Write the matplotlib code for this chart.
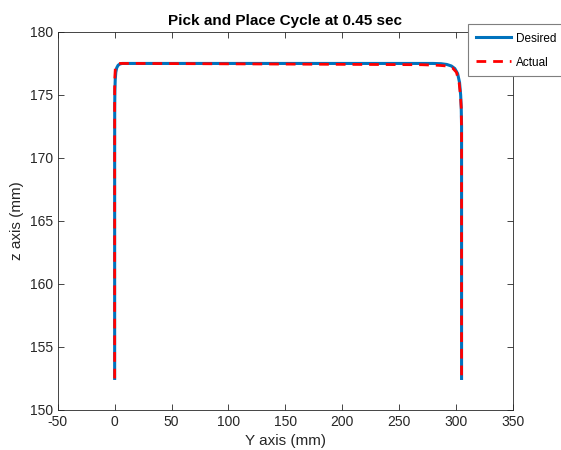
import numpy as np
import matplotlib.pyplot as plt

plt.rcParams['font.family'] = ['Liberation Sans', 'DejaVu Sans']
plt.rcParams['axes.unicode_minus'] = False

# desired path (Y, z) in mm
y_desired = [0, 0, 0.05, 0.2, 0.5, 1.0, 1.8, 3.0, 4.5, 6.5, 9.0, 12.0, 20, 150,
             280, 287, 292, 296, 299, 301.5, 303.2, 304.2, 304.7, 305, 305, 305]
z_desired = [152.5, 170.0, 174.0, 175.3, 176.2, 176.8, 177.15, 177.35, 177.45, 177.5, 177.5, 177.5, 177.5, 177.5,
             177.5, 177.48, 177.42, 177.3, 177.1, 176.7, 176.0, 175.0, 174.0, 172.5, 165.0, 152.5]

# actual (measured) path
y_actual = [0, 0, 0.0, 0.2, 0.6, 1.4, 2.8, 5.0, 8.0, 12.0, 20, 150,
            270, 285, 292, 297, 300.5, 302.8, 304.0, 304.7, 305, 305, 305]
z_actual = [152.5, 170.0, 175.5, 176.5, 177.1, 177.35, 177.45, 177.5, 177.5, 177.5, 177.5, 177.45,
            177.4, 177.35, 177.3, 177.15, 176.8, 176.0, 175.0, 174.0, 172.0, 165.0, 152.5]

fig = plt.figure(figsize=(5.61, 4.5), dpi=100)
ax = fig.add_axes([0.103, 0.089, 0.811, 0.84])

ax.plot(y_desired, z_desired, color='#0072BD', lw=2.2, label='Desired')
ax.plot(y_actual, z_actual, color='red', lw=2.0, ls=(0, (3.5, 2.5)), label='Actual')

ax.set_xlim(-50, 350)
ax.set_ylim(150, 180)
ax.set_xticks(np.arange(-50, 351, 50))
ax.set_yticks(np.arange(150, 181, 5))
ax.tick_params(direction='in', top=True, right=True, labelsize=10, colors='#262626', length=4, width=0.6)
for s in ax.spines.values():
    s.set_color('#262626')
    s.set_linewidth(0.6)

ax.set_xlabel('Y axis (mm)', fontsize=11, color='#262626')
ax.set_ylabel('z axis (mm)', fontsize=11, color='#262626')
ax.set_title('Pick and Place Cycle at 0.45 sec', fontsize=11, fontweight='bold', pad=5)

leg = ax.legend(loc='upper left', bbox_to_anchor=(0.834, 0.946), bbox_transform=fig.transFigure,
                fontsize=8.5, fancybox=False, framealpha=1, edgecolor='#7f7f7f',
                handlelength=3.0, handletextpad=0.4, handleheight=1.3, borderpad=0.65,
                borderaxespad=0, labelspacing=0.85)
leg.get_frame().set_linewidth(0.8)

fig.savefig('out.png', dpi=100)
